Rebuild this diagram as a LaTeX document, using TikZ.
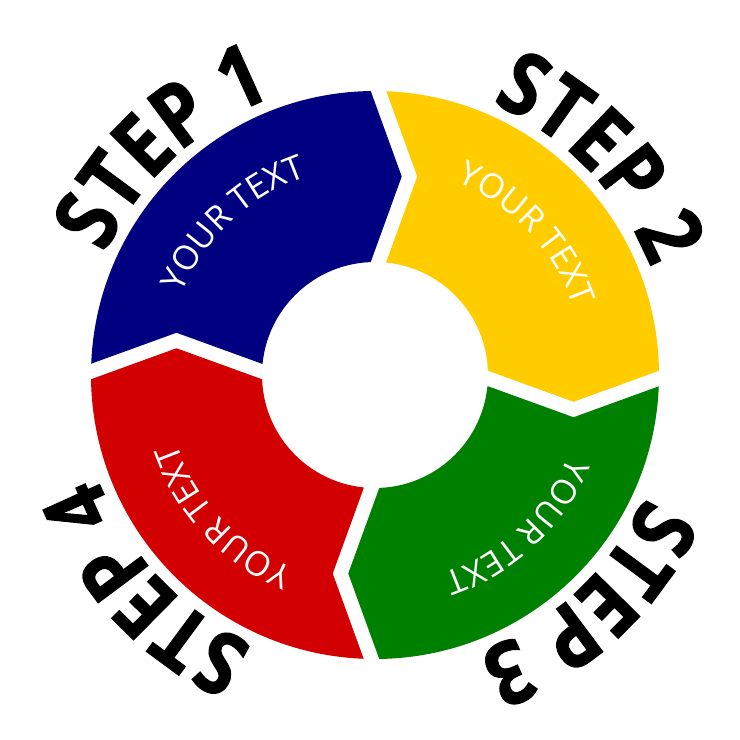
\documentclass[tikz,border=0pt]{standalone}
\usepackage{fontspec}
\setmainfont{Open Sans}
\newfontfamily\stepfont[FakeStretch=0.86, BoldFeatures={FakeBold=1.3}]{Open Sans}
\usetikzlibrary{calc,decorations.text}
\definecolor{segblue}{RGB}{0,0,128}
\definecolor{segyellow}{RGB}{255,204,0}
\definecolor{seggreen}{RGB}{0,128,0}
\definecolor{segred}{RGB}{210,0,0}
\tikzset{
  steplabel/.style={decorate, decoration={text along path, text align=center,
      text={|\stepfont\bfseries\fontsize{87}{87}\selectfont|#1}}},
  segtext/.style={decorate, decoration={text along path, text align=center,
      text={|\color{white}\fontsize{34}{34}\selectfont|#1}}}
}
\begin{document}
\begin{tikzpicture}[x=1pt,y=1pt]
\useasboundingbox (-375,-365) rectangle (365,375);
\fill[white] (-375,-365) rectangle (365,375);
\def\Rin{113}
\def\Rout{284}
\def\Rm{198.5}
\def\Rfar{700}
\def\Rt{210}
\pgfmathsetmacro\sS{3.5+7.75}
\pgfmathsetmacro\sE{3.5-7.75}
\pgfmathsetmacro\sSD{\sS+31}
\pgfmathsetmacro\sED{\sE+31}
\foreach \A/\B/\col in {180/90/segblue, 90/0/segyellow, 0/-90/seggreen, -90/-180/segred}{
  \pgfmathsetmacro\Av{\A-90}
  \pgfmathsetmacro\Bv{\B-90}
  \pgfmathsetmacro\M{(\A+\B)/2}
  \begin{scope}
    \clip ($(\A:60)+(\Av:\sS)$) -- ($(\A:\Rin)+(\Av:\sS)$) -- ($(\A:\Rm)+(\Av:\sSD)$)
      -- ($(\A:\Rout)+(\Av:\sS)$) -- ($(\A:\Rfar)+(\Av:\sS)$) -- (\M:1000)
      -- ($(\B:\Rfar)+(\Bv:\sE)$) -- ($(\B:\Rout)+(\Bv:\sE)$) -- ($(\B:\Rm)+(\Bv:\sED)$)
      -- ($(\B:\Rin)+(\Bv:\sE)$) -- ($(\B:60)+(\Bv:\sE)$) -- cycle;
    \fill[\col, even odd rule] (0,0) circle (\Rout) (0,0) circle (\Rin);
  \end{scope}
}
% segment texts
\path[segtext={YOUR TEXT}] (168:\Rt) arc[start angle=168, end angle=98, radius=\Rt];
\path[segtext={YOUR TEXT}] (78:\Rt) arc[start angle=78, end angle=8, radius=\Rt];
\path[segtext={YOUR TEXT}] (-12:\Rt) arc[start angle=-12, end angle=-82, radius=\Rt];
\path[segtext={YOUR TEXT}] (258:\Rt) arc[start angle=258, end angle=188, radius=\Rt];
% step labels
\path[steplabel={STEP 1}] (173:296) arc[start angle=173, end angle=93, radius=296];
\path[steplabel={STEP 2}] (84:296) arc[start angle=84, end angle=4, radius=296];
\path[steplabel={STEP 3}] (-7:296) arc[start angle=-7, end angle=-87, radius=296];
\path[steplabel={STEP 4}] (263:296) arc[start angle=263, end angle=183, radius=296];
\end{tikzpicture}
\end{document}
